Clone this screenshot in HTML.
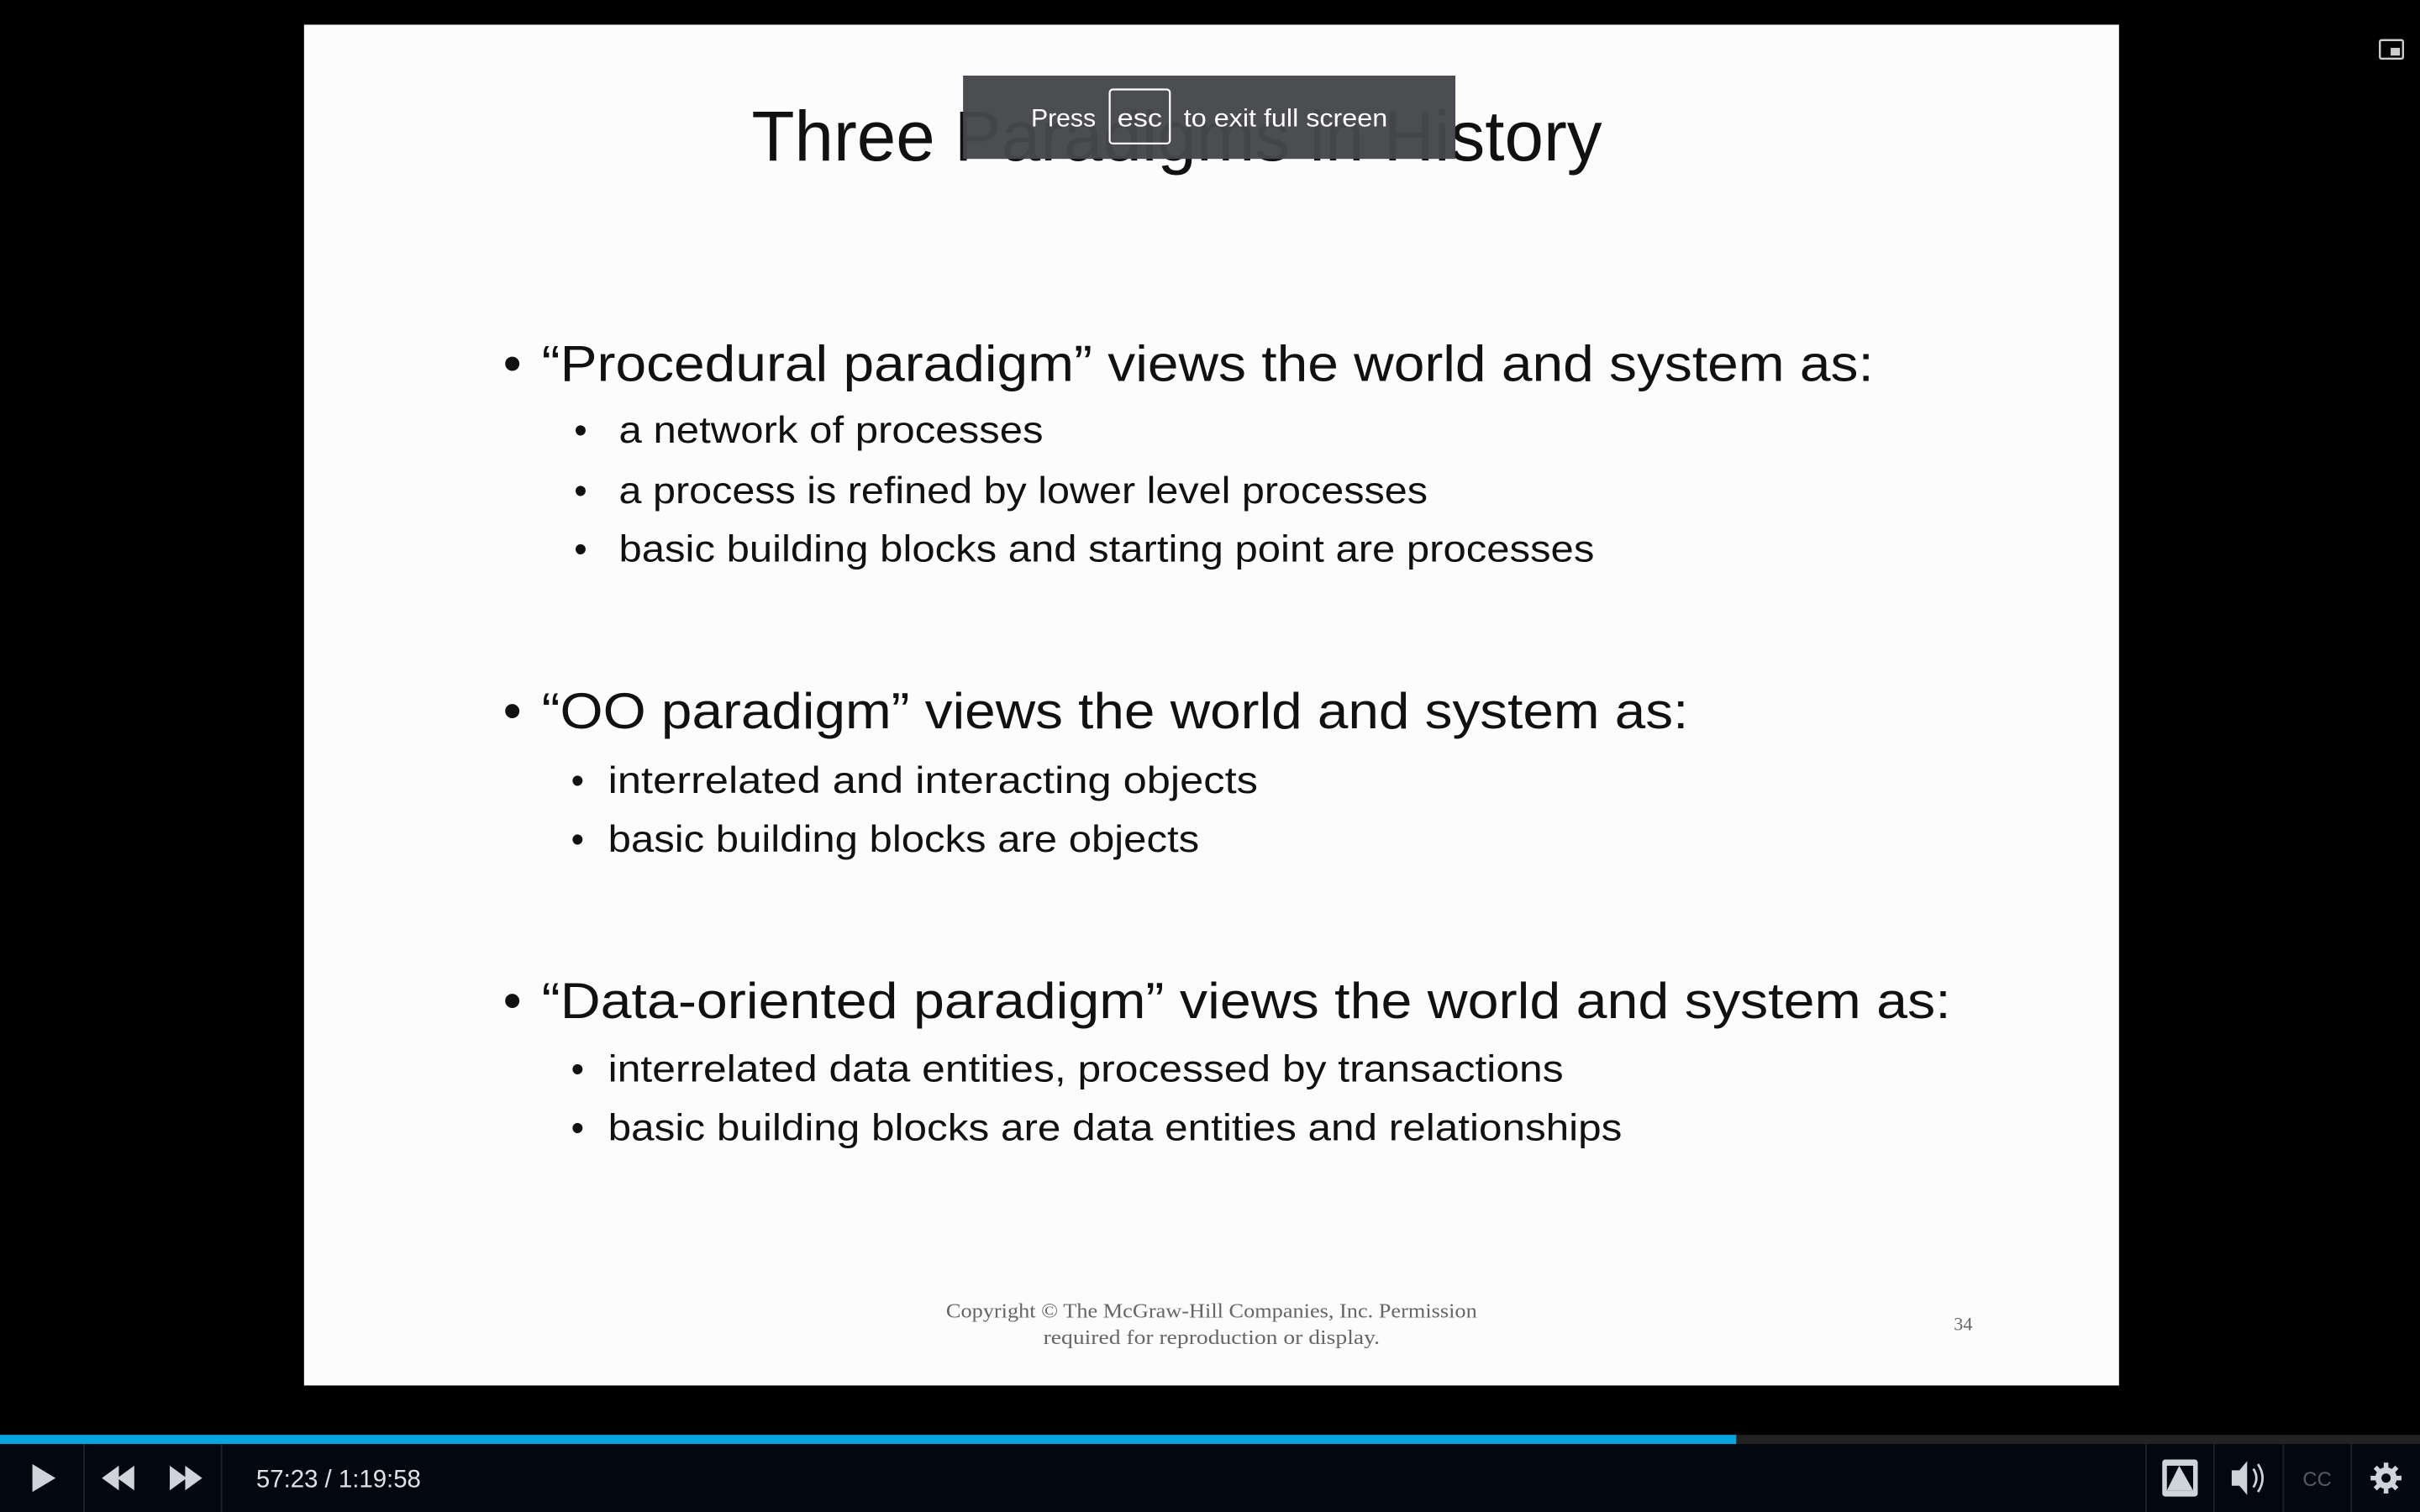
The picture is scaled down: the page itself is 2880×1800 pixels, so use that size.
<!DOCTYPE html>
<html><head><meta charset="utf-8"><style>html,body{margin:0;padding:0;background:#000;overflow:hidden}svg{display:block}</style></head>
<body>
<svg width="2880" height="1800" viewBox="0 0 1568 980" xmlns="http://www.w3.org/2000/svg" font-family="Liberation Sans, sans-serif">
<rect width="1568" height="980" fill="#000"/>
<rect x="197" y="16" width="1176" height="882" fill="#fcfcfc"/>
<g fill="#111">
<text x="487" y="104" font-size="46" textLength="551" lengthAdjust="spacingAndGlyphs">Three Paradigms in History</text>
<text x="326" y="247" font-size="34">•</text>
<text x="351" y="247" font-size="33" textLength="863" lengthAdjust="spacingAndGlyphs">“Procedural paradigm” views the world and system as:</text>
<text x="372" y="287" font-size="24">•</text>
<text x="401" y="287" font-size="24" textLength="275" lengthAdjust="spacingAndGlyphs">a network of processes</text>
<text x="372" y="326" font-size="24">•</text>
<text x="401" y="326" font-size="24" textLength="524" lengthAdjust="spacingAndGlyphs">a process is refined by lower level processes</text>
<text x="372" y="364" font-size="24">•</text>
<text x="401" y="364" font-size="24" textLength="632" lengthAdjust="spacingAndGlyphs">basic building blocks and starting point are processes</text>
<text x="326" y="472" font-size="34">•</text>
<text x="351" y="472" font-size="33" textLength="743" lengthAdjust="spacingAndGlyphs">“OO paradigm” views the world and system as:</text>
<text x="370" y="514" font-size="24">•</text>
<text x="394" y="514" font-size="24" textLength="421" lengthAdjust="spacingAndGlyphs">interrelated and interacting objects</text>
<text x="370" y="552" font-size="24">•</text>
<text x="394" y="552" font-size="24" textLength="383" lengthAdjust="spacingAndGlyphs">basic building blocks are objects</text>
<text x="326" y="660" font-size="34">•</text>
<text x="351" y="660" font-size="33" textLength="913" lengthAdjust="spacingAndGlyphs">“Data-oriented paradigm” views the world and system as:</text>
<text x="370" y="701" font-size="24">•</text>
<text x="394" y="701" font-size="24" textLength="619" lengthAdjust="spacingAndGlyphs">interrelated data entities, processed by transactions</text>
<text x="370" y="739" font-size="24">•</text>
<text x="394" y="739" font-size="24" textLength="657" lengthAdjust="spacingAndGlyphs">basic building blocks are data entities and relationships</text>
</g>
<g fill="#666" font-family="Liberation Serif, serif" font-size="13">
<text x="785" y="854" text-anchor="middle" textLength="344" lengthAdjust="spacingAndGlyphs">Copyright © The McGraw-Hill Companies, Inc. Permission</text>
<text x="785" y="871" text-anchor="middle" textLength="218" lengthAdjust="spacingAndGlyphs">required for reproduction or display.</text>
<text x="1266" y="862" font-size="12">34</text>
</g>
<rect x="624" y="49" width="319" height="54" fill="#46474b" fill-opacity="0.97"/>
<g fill="#fff" font-size="16">
<text x="668" y="82" textLength="42" lengthAdjust="spacingAndGlyphs">Press</text>
<rect x="719" y="58" width="39" height="35" rx="2" fill="none" stroke="#fff" stroke-width="1.2"/>
<text x="724" y="82" textLength="29" lengthAdjust="spacingAndGlyphs">esc</text>
<text x="767" y="82" textLength="132" lengthAdjust="spacingAndGlyphs">to exit full screen</text>
</g>
<rect x="1542" y="26" width="15" height="12" fill="none" stroke="#ccc" stroke-width="1.3" rx="1"/>
<rect x="1549" y="31" width="6" height="5" fill="#ccc"/>
<rect x="0" y="930" width="1568" height="6" fill="#222"/>
<rect x="0" y="930" width="1125" height="6" fill="#05a3e0"/>
<rect x="0" y="936" width="1568" height="44" fill="#030810"/>
<g stroke="#1e232b" stroke-width="1">
<line x1="54.5" y1="936" x2="54.5" y2="980"/><line x1="143.5" y1="936" x2="143.5" y2="980"/>
<line x1="1390.5" y1="936" x2="1390.5" y2="980"/><line x1="1434.5" y1="936" x2="1434.5" y2="980"/>
<line x1="1479.5" y1="936" x2="1479.5" y2="980"/><line x1="1523.5" y1="936" x2="1523.5" y2="980"/>
</g>
<g fill="#cdd4da">
<polygon points="21,949 36,958 21,967"/>
<polygon points="66,958 77,950 77,966"/><polygon points="76,958 87,950 87,966"/>
<polygon points="110,950 121,958 110,966"/><polygon points="120,950 131,958 120,966"/>
<text x="166" y="964" font-size="16" fill="#dde2e6">57:23 / 1:19:58</text>
<rect x="1401" y="946" width="23" height="24" rx="2"/>
<rect x="1404" y="950" width="17" height="16" fill="#030810"/>
<polygon points="1404,966 1412,950 1421,966"/>
<polygon points="1446,953 1451,953 1456,947 1456,969 1451,963 1446,963"/>
<path d="M1460,952 Q1464,958 1460,964 M1463,949 Q1469,958 1463,967" stroke="#cdd4da" fill="none" stroke-width="1.5"/>
<text x="1492" y="963" font-size="13" fill="#555a60">CC</text>
<circle cx="1546" cy="958" r="7"/>
<g stroke="#cdd4da" stroke-width="3"><line x1="1546" y1="948" x2="1546" y2="968"/><line x1="1536" y1="958" x2="1556" y2="958"/><line x1="1539" y1="951" x2="1553" y2="965"/><line x1="1553" y1="951" x2="1539" y2="965"/></g>
<circle cx="1546" cy="958" r="3" fill="#030810"/>
</g>
</svg>
</body></html>
